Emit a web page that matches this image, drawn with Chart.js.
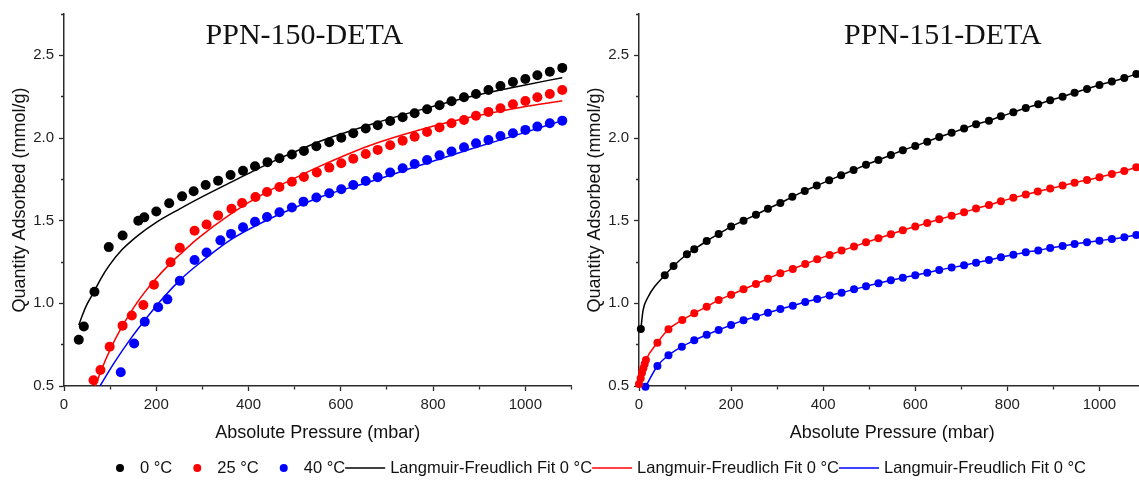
<!DOCTYPE html>
<html>
<head>
<meta charset="utf-8">
<title>CO2 isotherms PPN-150/151-DETA</title>
<script src="https://cdn.jsdelivr.net/npm/chart.js@4.4.1/dist/chart.umd.min.js"></script>
<style>
  html, body { margin: 0; padding: 0; background: #ffffff; }
  #stage { position: relative; width: 1139px; height: 480px; overflow: hidden; }
  #stage canvas { position: absolute; top: 0; }
</style>
</head>
<body>
<div id="stage">
  <canvas id="panel150" width="580" height="450" style="left:0px"></canvas>
  <canvas id="panel151" width="580" height="450" style="left:575px"></canvas>
  <canvas id="legendRow" width="1139" height="30" style="top:450px;left:0px"></canvas>
</div>
<script>
// ---- measured isotherms, [pressure (mbar), quantity adsorbed (mmol/g)] ----
const ads150_0C = [[32,0.78],[43,0.86],[66,1.07],[97,1.34],[127,1.41],[161,1.50],[174,1.52],[200,1.555],[228,1.605],[256,1.647],[281,1.678],[307,1.716],[334,1.742],[361,1.776],[388,1.802],[414,1.829],[441,1.854],[467,1.877],[494,1.90],[520,1.922],[547,1.95],[575,1.974],[601,2.002],[627,2.029],[654,2.057],[680,2.077],[707,2.103],[734,2.125],[760,2.15],[787,2.174],[814,2.198],[840,2.222],[867,2.247],[893,2.266],[920,2.29],[946,2.315],[973,2.339],[1000,2.357],[1026,2.38],[1053,2.401],[1080,2.424]];
const ads150_25C = [[64,0.535],[79,0.597],[99,0.737],[127,0.865],[147,0.926],[172,0.99],[195,1.112],[231,1.249],[251,1.336],[283,1.439],[309,1.477],[334,1.532],[363,1.572],[386,1.607],[415,1.643],[440,1.673],[467,1.704],[494,1.735],[520,1.764],[548,1.792],[575,1.821],[601,1.847],[627,1.875],[654,1.903],[680,1.928],[707,1.956],[734,1.984],[760,2.008],[787,2.036],[814,2.063],[840,2.089],[867,2.109],[893,2.135],[920,2.158],[946,2.18],[973,2.204],[1000,2.224],[1026,2.246],[1053,2.266],[1080,2.29]];
const ads150_40C = [[123,0.583],[152,0.757],[175,0.889],[204,0.977],[224,1.024],[251,1.136],[283,1.262],[309,1.308],[339,1.381],[362,1.42],[388,1.46],[414,1.493],[440,1.522],[467,1.551],[494,1.58],[519,1.615],[547,1.64],[575,1.666],[601,1.69],[627,1.716],[654,1.74],[680,1.763],[707,1.791],[734,1.817],[760,1.843],[787,1.867],[814,1.895],[840,1.918],[867,1.944],[893,1.968],[920,1.988],[946,2.012],[973,2.029],[1000,2.049],[1026,2.069],[1053,2.089],[1080,2.105]];

// Langmuir-Freundlich fit curves for PPN-150-DETA
const fit150_0C = [[32,0.868],[40,0.93],[50,0.995],[65,1.07],[80,1.15],[97,1.225],[126,1.325],[160,1.41],[200,1.49],[250,1.57],[300,1.645],[360,1.73],[410,1.80],[470,1.88],[520,1.94],[555,1.98],[663,2.08],[772,2.17],[880,2.25],[989,2.315],[1080,2.365]];
const fit150_25C = [[68,0.5],[80,0.59],[100,0.72],[126,0.86],[150,0.97],[173,1.06],[195,1.135],[230,1.24],[251,1.295],[289,1.39],[361,1.54],[434,1.665],[506,1.765],[555,1.83],[663,1.955],[772,2.05],[880,2.125],[989,2.185],[1080,2.225]];
const fit150_40C = [[78,0.5],[108,0.637],[145,0.788],[181,0.919],[217,1.04],[253,1.145],[289,1.232],[361,1.384],[434,1.495],[506,1.586],[560,1.648],[663,1.735],[772,1.835],[880,1.932],[989,2.025],[1080,2.105]];

const ads151_0C = [[4,0.845],[56,1.17],[75,1.226],[104,1.297],[120,1.327],[147,1.377],[173,1.42],[200,1.464],[227,1.50],[254,1.536],[280,1.572],[307,1.607],[333,1.644],[360,1.68],[386,1.712],[413,1.744],[439,1.775],[466,1.806],[493,1.838],[520,1.867],[547,1.897],[573,1.926],[600,1.952],[626,1.978],[652,2.006],[679,2.031],[706,2.057],[732,2.083],[760,2.105],[786,2.131],[813,2.155],[840,2.182],[867,2.204],[893,2.228],[920,2.25],[946,2.274],[973,2.297],[1000,2.321],[1027,2.341],[1054,2.363],[1080,2.387]];
const ads151_25C = [[0,0.512],[3.6,0.547],[6.5,0.58],[9.4,0.607],[12.3,0.633],[15,0.657],[40,0.762],[64,0.843],[94,0.899],[120,0.94],[147,0.98],[173,1.02],[200,1.052],[227,1.085],[254,1.117],[280,1.149],[307,1.182],[334,1.208],[361,1.238],[387,1.266],[414,1.293],[440,1.319],[467,1.343],[493,1.369],[520,1.394],[547,1.418],[573,1.442],[600,1.464],[626,1.486],[652,1.508],[679,1.53],[706,1.551],[732,1.573],[760,1.595],[786,1.617],[813,1.638],[840,1.658],[866,1.677],[893,1.695],[920,1.712],[946,1.73],[973,1.746],[1000,1.763],[1027,1.783],[1054,1.801],[1080,1.823]];
const ads151_40C = [[14,0.495],[40,0.621],[64,0.686],[93,0.738],[120,0.776],[147,0.81],[173,0.839],[200,0.869],[227,0.897],[254,0.919],[280,0.943],[307,0.966],[334,0.986],[361,1.008],[387,1.026],[414,1.048],[440,1.064],[467,1.085],[493,1.103],[520,1.121],[547,1.139],[573,1.155],[600,1.17],[626,1.185],[652,1.202],[679,1.216],[706,1.23],[732,1.246],[760,1.262],[786,1.279],[813,1.294],[840,1.309],[867,1.32],[893,1.335],[920,1.347],[946,1.359],[973,1.369],[1000,1.379],[1027,1.389],[1054,1.40],[1080,1.413]];
// low-pressure part of the 0 °C fit for PPN-151-DETA (between the first two measurements)
const fit151_0C_low = [[9,0.96],[20,1.04],[35,1.105]];

// ---- labels and axis ticks ----
const tempLabels = ['0 °C', '25 °C', '40 °C'];
const fitLabels = ['Langmuir-Freudlich Fit 0 °C', 'Langmuir-Freudlich Fit 0 °C', 'Langmuir-Freudlich Fit 0 °C'];
const panelTitles = ['PPN-150-DETA', 'PPN-151-DETA'];
const xTickLabels = [0, 200, 400, 600, 800, 1000];
const yTickLabels = [0.5, 1.0, 1.5, 2.0, 2.5];
const xTitle = 'Absolute Pressure (mbar)';
const yTitle = 'Quantity Adsorbed (mmol/g)';

// ---- styling ----
const seriesColors = ['#000000', '#ff0000', '#0000ff'];
const AXIS = '#2b2b2b';
const SANS = '"Liberation Sans", Arial, Helvetica, sans-serif';
const SERIF = '"Liberation Serif", "Times New Roman", Times, serif';

Chart.defaults.font.family = SANS;
Chart.defaults.color = '#1e1e1e';
Chart.defaults.animation = false;

const near = (a, b) => Math.abs(a - b) < 1e-6;
const isMajorX = v => xTickLabels.some(t => near(t, v));
const isMajorY = v => yTickLabels.some(t => near(t, v));

function axisSet() {
  return {
    x: {
      type: 'linear', min: 0, max: 1100,
      afterFit: s => { s.height = 64; },
      border: { display: true, color: AXIS, width: 1.5 },
      grid: {
        drawOnChartArea: false, drawTicks: true, tickLength: 5, tickColor: AXIS, tickWidth: 1.3,
        // minor ticks: only the 3 px next to the axis line
        tickBorderDash: c => (c.tick && !isMajorX(c.tick.value)) ? [3, 10] : []
      },
      ticks: {
        stepSize: 100, autoSkip: false, maxRotation: 0, padding: 5,
        font: { size: 15 }, color: '#1e1e1e',
        callback: v => isMajorX(v) ? String(v) : ''
      },
      title: { display: true, text: xTitle, font: { size: 18 }, color: '#111', padding: { top: 0, bottom: 6.5 } }
    },
    y: {
      type: 'linear', min: 0.5, max: 2.75,
      afterFit: s => { s.width = 64; },
      border: { display: true, color: AXIS, width: 1.5 },
      grid: {
        drawOnChartArea: false, drawTicks: true, tickLength: 5, tickColor: AXIS, tickWidth: 1.3,
        tickBorderDash: c => (c.tick && !isMajorY(c.tick.value)) ? [3, 2] : [],
        tickBorderDashOffset: c => (c.tick && !isMajorY(c.tick.value)) ? 3 : 0
      },
      ticks: {
        stepSize: 0.25, autoSkip: false, padding: 5,
        font: { size: 15 }, color: '#1e1e1e',
        callback: v => isMajorY(v) ? Number(v).toFixed(1) : ''
      },
      title: { display: true, text: yTitle, font: { size: 18 }, color: '#111', padding: { top: 9, bottom: 0 } }
    }
  };
}

// panel heading drawn inside the plot area
const panelHeading = {
  id: 'panelHeading',
  afterDraw(chart, args, opts) {
    const ctx = chart.ctx;
    ctx.save();
    ctx.font = '30px ' + SERIF;
    ctx.fillStyle = '#111';
    ctx.textAlign = 'center';
    ctx.textBaseline = 'alphabetic';
    ctx.fillText(opts.text, chart.scales.x.getPixelForValue(opts.atPressure), opts.baseline);
    ctx.restore();
  }
};

function pointSet(data, color, radius) {
  return { data, showLine: false, pointRadius: radius, pointHoverRadius: radius,
           pointBackgroundColor: color, pointBorderWidth: 0, borderColor: color, clip: false, order: 0 };
}
function curveSet(data, color) {
  return { data, showLine: true, pointRadius: 0, pointHoverRadius: 0, borderColor: color,
           borderWidth: 1.5, cubicInterpolationMode: 'monotone', fill: false, order: 1 };
}

function panel(id, datasets, title, titleAt, padRight) {
  return new Chart(document.getElementById(id), {
    type: 'scatter',
    data: { datasets },
    options: {
      responsive: false,
      events: [],
      layout: { padding: { left: 0, right: padRight, top: 14, bottom: 0 } },
      scales: axisSet(),
      plugins: {
        legend: { display: false },
        tooltip: { enabled: false },
        panelHeading: { text: title, atPressure: titleAt, baseline: 44 }
      }
    },
    plugins: [panelHeading]
  });
}

const byPressure = (a, b) => a[0] - b[0];

panel('panel150', [
  pointSet(ads150_0C, seriesColors[0], 5),
  pointSet(ads150_25C, seriesColors[1], 5),
  pointSet(ads150_40C, seriesColors[2], 5),
  curveSet(fit150_0C, seriesColors[0]),
  curveSet(fit150_25C, seriesColors[1]),
  curveSet(fit150_40C, seriesColors[2])
], panelTitles[0], 521, 8.5);

panel('panel151', [
  pointSet(ads151_0C, seriesColors[0], 4),
  pointSet(ads151_25C, seriesColors[1], 4),
  pointSet(ads151_40C, seriesColors[2], 4),
  curveSet(ads151_0C.concat(fit151_0C_low).sort(byPressure), seriesColors[0]),
  curveSet(ads151_25C, seriesColors[1]),
  curveSet(ads151_40C, seriesColors[2])
], panelTitles[1], 660, 9.5);

// shared legend row under both panels
const legendRowPlugin = {
  id: 'legendRowPlugin',
  afterDraw(chart, args, o) {
    const ctx = chart.ctx;
    ctx.save();
    ctx.font = o.fontSize + 'px ' + SANS;
    ctx.textBaseline = 'middle';
    ctx.textAlign = 'left';
    let x = o.start;
    chart.data.datasets.forEach((ds, i) => {
      const w = ctx.measureText(ds.label).width;
      if (ds.showLine) {
        ctx.strokeStyle = ds.borderColor;
        ctx.lineWidth = 1.6;
        ctx.beginPath();
        ctx.moveTo(x, o.y); ctx.lineTo(x + o.lineLen, o.y);
        ctx.stroke();
        ctx.fillStyle = '#111';
        ctx.fillText(ds.label, x + o.lineText, o.y);
        x += o.lineText + w;
      } else {
        if (i > 0) x += o.dotGap;
        ctx.fillStyle = ds.pointBackgroundColor;
        ctx.beginPath();
        ctx.arc(x + o.dotR, o.y, o.dotR, 0, Math.PI * 2);
        ctx.fill();
        ctx.fillStyle = '#111';
        ctx.fillText(ds.label, x + o.dotText, o.y);
        x += o.dotText + w;
      }
    });
    ctx.restore();
  }
};

new Chart(document.getElementById('legendRow'), {
  type: 'scatter',
  data: {
    datasets: [
      ...tempLabels.map((t, i) => ({ label: t, data: [], showLine: false, pointBackgroundColor: seriesColors[i], borderColor: seriesColors[i] })),
      ...fitLabels.map((t, i) => ({ label: t, data: [], showLine: true, pointBackgroundColor: seriesColors[i], borderColor: seriesColors[i] }))
    ]
  },
  options: {
    responsive: false,
    events: [],
    scales: { x: { display: false }, y: { display: false } },
    plugins: {
      legend: { display: false },
      tooltip: { enabled: false },
      legendRowPlugin: { start: 116, y: 18, fontSize: 16.5, dotR: 4, dotText: 24, dotGap: 21, lineLen: 40, lineText: 45 }
    }
  },
  plugins: [legendRowPlugin]
});
</script>
</body>
</html>
